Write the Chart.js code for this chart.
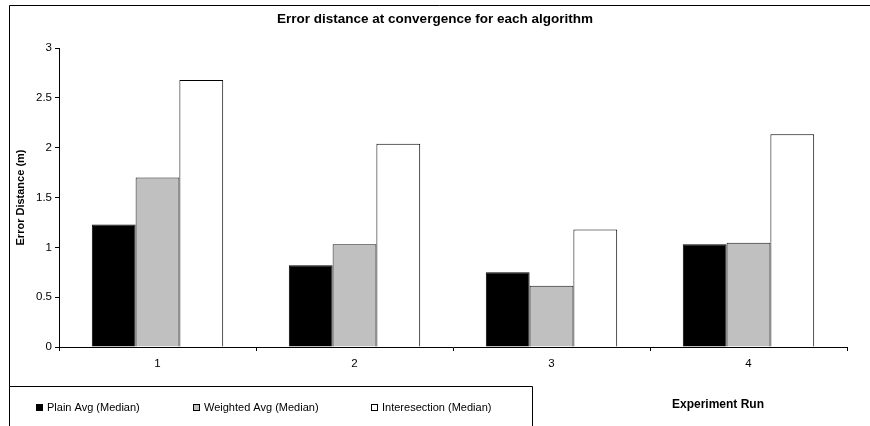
<!DOCTYPE html>
<html>
<head>
<meta charset="utf-8">
<script src="https://cdn.jsdelivr.net/npm/chart.js@4/dist/chart.umd.min.js"></script>
<style>
    html, body { margin: 0; padding: 0; background: #ffffff; }
    #wrap { width: 870px; height: 426px; }
</style>
</head>
<body>
<div id="wrap"><canvas id="chart" width="870" height="426"></canvas></div>
<script>
const RUNS = ['1', '2', '3', '4'];
const PLAIN_AVG = [1.23, 0.82, 0.75, 1.03];
const WEIGHTED_AVG = [1.70, 1.03, 0.615, 1.045];
const INTERSECTION = [2.68, 2.04, 1.18, 2.135];
const Y_TICKS = [0, 0.5, 1, 1.5, 2, 2.5, 3];

const CHART_TITLE = 'Error distance at convergence for each algorithm';
const Y_TITLE = 'Error Distance (m)';
const X_TITLE = 'Experiment Run';

const FONT = '"Liberation Sans", Arial, sans-serif';

// frame, titles and the boxed legend, drawn the old Excel way
const excelFrame = {
    id: 'excelFrame',
    afterDraw(chart) {
        const ctx = chart.ctx;
        const area = chart.chartArea;
        ctx.save();
        ctx.strokeStyle = '#000000';
        ctx.lineWidth = 1;

        // outer border (top + left only, the rest is cropped)
        ctx.beginPath();
        ctx.moveTo(9.5, 426);
        ctx.lineTo(9.5, 5.5);
        ctx.lineTo(870, 5.5);
        ctx.stroke();

        // legend box
        ctx.beginPath();
        ctx.moveTo(9.5, 386.5);
        ctx.lineTo(532.5, 386.5);
        ctx.lineTo(532.5, 426);
        ctx.stroke();

        ctx.fillStyle = '#000000';
        ctx.textBaseline = 'middle';

        // chart title
        ctx.font = `bold 13.5px ${FONT}`;
        ctx.textAlign = 'center';
        ctx.fillText(CHART_TITLE, 435, 19);

        // x axis title
        ctx.font = `bold 12px ${FONT}`;
        ctx.fillText(X_TITLE, 718, 405);

        // y axis title
        ctx.save();
        ctx.translate(21, (area.top + area.bottom) / 2);
        ctx.rotate(-Math.PI / 2);
        ctx.font = `bold 11px ${FONT}`;
        ctx.fillText(Y_TITLE, 0, 0);
        ctx.restore();

        // legend entries
        const legendX = [36, 193, 371];
        ctx.font = `11px ${FONT}`;
        ctx.textAlign = 'left';
        chart.data.datasets.forEach((ds, i) => {
            const x = legendX[i];
            ctx.fillStyle = ds.backgroundColor;
            ctx.fillRect(x, 404, 7, 7);
            ctx.strokeStyle = '#000000';
            ctx.strokeRect(x + 0.5, 404.5, 6, 6);
            ctx.fillStyle = '#000000';
            ctx.fillText(ds.label, x + 11, 408);
        });

        ctx.restore();
    }
};

new Chart(document.getElementById('chart'), {
    type: 'bar',
    data: {
        labels: RUNS,
        datasets: [
            {
                label: 'Plain Avg (Median)',
                data: PLAIN_AVG,
                backgroundColor: '#000000',
                borderColor: '#000000',
                borderWidth: 1
            },
            {
                label: 'Weighted Avg (Median)',
                data: WEIGHTED_AVG,
                backgroundColor: '#c0c0c0',
                borderColor: '#1a1a1a',
                borderWidth: 1
            },
            {
                label: 'Interesection (Median)',
                data: INTERSECTION,
                backgroundColor: '#ffffff',
                borderColor: '#000000',
                borderWidth: 1
            }
        ]
    },
    options: {
        responsive: false,
        animation: false,
        layout: {
            padding: { top: 48, right: 23, bottom: 49, left: 0 }
        },
        datasets: {
            bar: { categoryPercentage: 0.667, barPercentage: 1.0 }
        },
        plugins: {
            legend: { display: false },
            title: { display: false },
            tooltip: { enabled: false }
        },
        scales: {
            x: {
                offset: true,
                grid: {
                    offset: true,
                    drawOnChartArea: false,
                    tickLength: 4,
                    color: '#000000'
                },
                border: { color: '#000000', width: 1 },
                ticks: {
                    color: '#000000',
                    font: { family: FONT, size: 11.5 },
                    padding: 6
                },
                afterFit(scale) {
                    scale.height = 30;
                }
            },
            y: {
                min: 0,
                max: 3,
                afterBuildTicks(scale) {
                    scale.ticks = Y_TICKS.map(value => ({ value }));
                },
                grid: {
                    drawOnChartArea: false,
                    tickLength: 4,
                    color: '#000000'
                },
                border: { color: '#000000', width: 1 },
                ticks: {
                    color: '#000000',
                    font: { family: FONT, size: 11.5 },
                    padding: 3,
                    callback(value) {
                        return String(value);
                    }
                },
                afterFit(scale) {
                    scale.width = 59;
                }
            }
        }
    },
    plugins: [excelFrame]
});
</script>
</body>
</html>
